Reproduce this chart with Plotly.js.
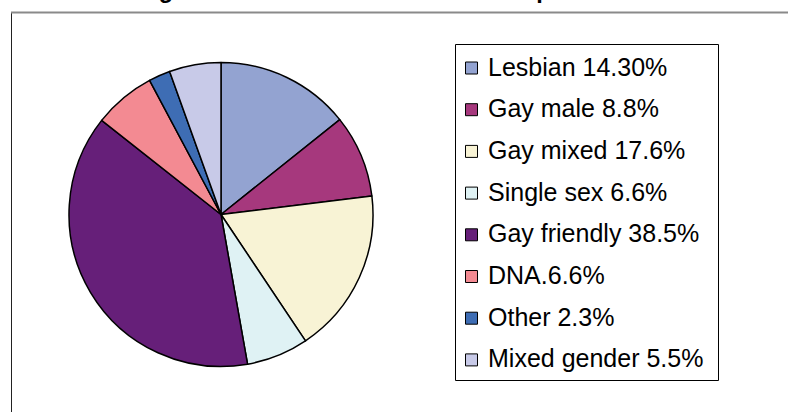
<!DOCTYPE html>
<html>
<head>
<meta charset="utf-8">
<script src="https://cdn.plot.ly/plotly-3.0.1.min.js"></script>
<style>
  html, body { margin: 0; padding: 0; background: #ffffff; }
  #chart { width: 788px; height: 412px; }
</style>
</head>
<body>
<div id="chart"></div>
<script>
// ---- data ----
const categories = ["Lesbian", "Gay male", "Gay mixed", "Single sex", "Gay friendly", "DNA", "Other", "Mixed gender"];
const values = [14.3, 8.8, 17.6, 6.6, 38.5, 6.6, 2.3, 5.5];
const legendLabels = ["Lesbian 14.30%", "Gay male 8.8%", "Gay mixed 17.6%", "Single sex 6.6%", "Gay friendly 38.5%", "DNA.6.6%", "Other 2.3%", "Mixed gender 5.5%"];
const colors = ["#93A3D1", "#A6387D", "#F8F3D5", "#DFF2F4", "#661F79", "#F38A92", "#3E6DB4", "#C8CAE8"];
const titleText = "Venue categories attended most of the time: percent of members";

// ---- layout helpers (pixel -> paper) ----
const W = 788, H = 412;
const px = x => x / W;
const py = y => 1 - y / H;
const FONT = "Liberation Sans, Arial, sans-serif";

const trace = {
  type: "pie",
  labels: categories,
  values: values,
  sort: false,
  direction: "clockwise",
  rotation: 0,
  textinfo: "none",
  hoverinfo: "label+percent",
  showlegend: false,
  marker: { colors: colors, line: { color: "#000000", width: 1.5 } },
  domain: { x: [px(69), px(373)], y: [py(366.5), py(62.5)] }
};

const shapes = [
  // chart-area frame (left and top edges visible)
  { type: "line", xref: "paper", yref: "paper", x0: px(11.5), x1: px(11.5), y0: py(12), y1: py(420), line: { color: "#222222", width: 1 } },
  { type: "line", xref: "paper", yref: "paper", x0: px(11), x1: px(800), y0: py(12.5), y1: py(12.5), line: { color: "#8a8a8a", width: 2 } },
  // legend box
  { type: "rect", xref: "paper", yref: "paper", x0: px(455.5), x1: px(718.5), y0: py(380.5), y1: py(44.5), line: { color: "#000000", width: 1 }, fillcolor: "rgba(0,0,0,0)" }
];

const annotations = [
  { xref: "paper", yref: "paper", x: px(34), y: py(5), xanchor: "left", yanchor: "bottom",
    text: "<b>" + titleText + "</b>", showarrow: false, font: { family: FONT, size: 23.5, color: "#000000" } }
];

const rowTop = 68, rowGap = 41.7, sq = 12;
legendLabels.forEach((lab, i) => {
  const cy = rowTop + rowGap * i;
  shapes.push({ type: "rect", xref: "paper", yref: "paper",
    x0: px(465.5), x1: px(465.5 + sq), y0: py(cy + sq / 2), y1: py(cy - sq / 2),
    fillcolor: colors[i], line: { color: "#000000", width: 1 } });
  annotations.push({ xref: "paper", yref: "paper", x: px(486), y: py(cy - 1.5),
    xanchor: "left", yanchor: "middle", text: lab, showarrow: false,
    font: { family: FONT, size: 25, color: "#000000" } });
});

const layout = {
  width: W, height: H,
  margin: { l: 0, r: 0, t: 0, b: 0 },
  paper_bgcolor: "#ffffff",
  plot_bgcolor: "#ffffff",
  showlegend: false,
  font: { family: FONT },
  shapes: shapes,
  annotations: annotations
};

Plotly.newPlot("chart", [trace], layout, { displayModeBar: false, staticPlot: true });
</script>
</body>
</html>
